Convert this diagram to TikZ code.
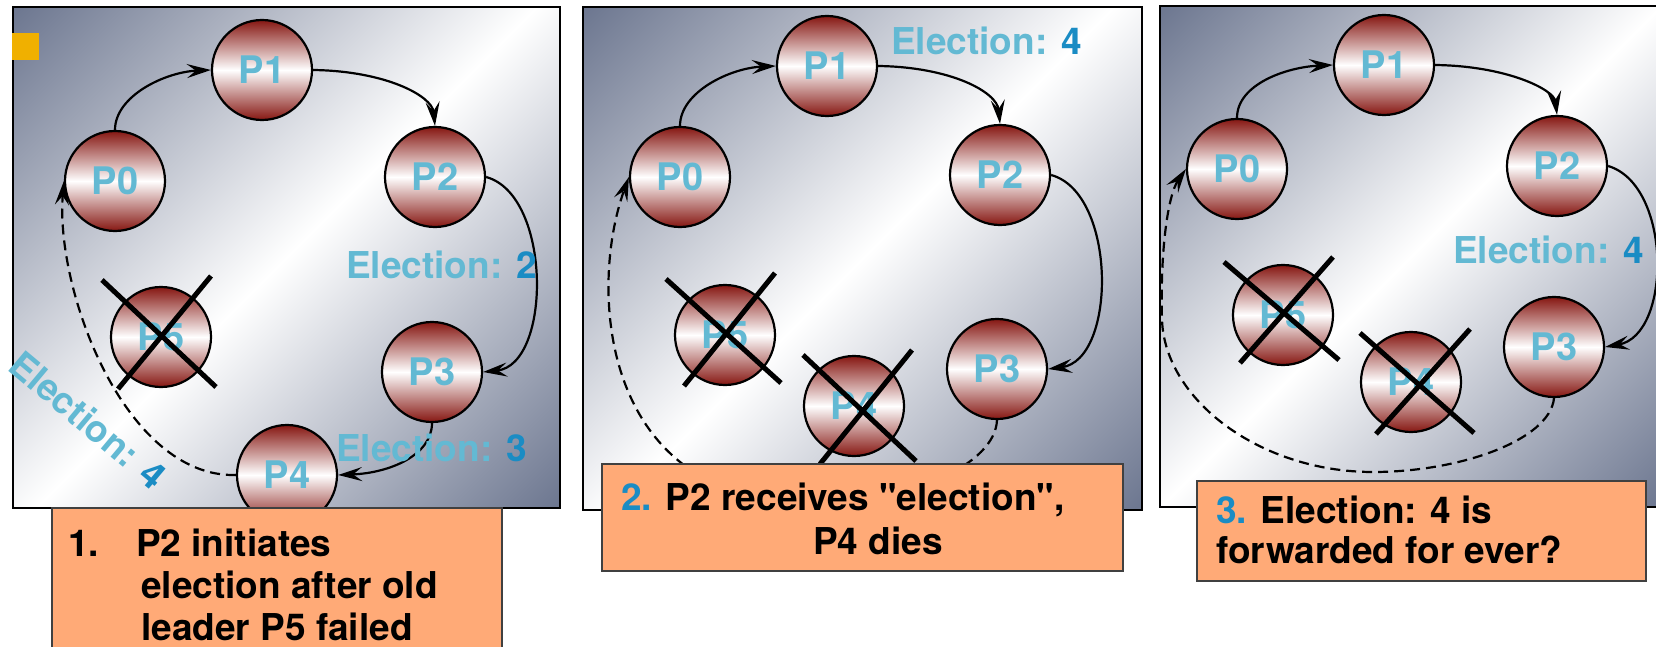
\documentclass[tikz,border=0pt]{standalone}
\usepackage{fontspec}
\setmainfont{TeX Gyre Heros}
% same face without the TeX quote mapping, for straight double quotes
\newfontfamily\plainheros{TeX Gyre Heros}
\usetikzlibrary{arrows.meta,calc}

\definecolor{pbg}{HTML}{6E7891}
\definecolor{pdark}{HTML}{861712}
\definecolor{plabel}{HTML}{63B9D3}
\definecolor{enum}{HTML}{1A8CC4}
\definecolor{capfill}{HTML}{FFAA77}
\definecolor{marker}{HTML}{F0B000}

% diagonal metallic backdrop: dark corners, white band across the middle
\pgfdeclareverticalshading{panelshade}{100bp}{color(0bp)=(pbg); color(15bp)=(pbg); color(50bp)=(white); color(85bp)=(pbg); color(100bp)=(pbg)}

\newcommand{\dq}{{\plainheros\bfseries\symbol{34}}}

\begin{document}
\begin{tikzpicture}[x=1pt,y=-1pt,
  panel/.style={draw=black,line width=2.5pt,shade,shading=panelshade,shading angle=45},
  proc/.style={circle,draw=black,line width=2.2pt,minimum size=100pt,inner sep=0pt,
    top color=pdark,bottom color=pdark,middle color=white,text=plabel,
    font=\bfseries\fontsize{38}{38}\selectfont},
  link/.style={line width=2.2pt,-{Stealth[length=24pt,width=14pt,inset=9pt]}},
  lostlink/.style={link,dash pattern=on 10pt off 6pt},
  xmark/.style={line width=5pt,draw=black},
  msg/.style={inner sep=0pt,text=plabel,font=\bfseries\fontsize{37}{37}\selectfont},
  caption/.style={draw=black!75,line width=1.2pt,fill=capfill},
  captext/.style={inner sep=0pt,anchor=north west,align=left,text=black}
]
\useasboundingbox (0,0) rectangle (1656,647);
\fill[white] (0,0) rectangle (1656,647);

% ---------- backdrops ----------
\path[panel] (13,7) rectangle (560,508);
\path[panel] (583,7) rectangle (1142,510);
\path[panel] (1160,6) rectangle (1662,507);
\fill[marker] (12,33) rectangle (39,60);

% ---------- step 1 ----------
\node[proc] (a0) at (115,181) {P0};
\node[proc] (a1) at (262,70)  {P1};
\node[proc] (a2) at (435,177) {P2};
\node[proc] (a3) at (432,372) {P3};
\node[proc] (a4) at (287,475) {P4};
\node[proc] (a5) at (161,337) {P5};
\draw[xmark] ($(a5)+(-59,-57)$) -- ($(a5)+(55,50)$)
             ($(a5)+(-43,52)$) -- ($(a5)+(50,-61)$);

\draw[link] (a0.north) .. controls (115,96) and (165,72) .. (a1.west);
\draw[link] (a1.east) .. controls (386,71) and (432,96) .. (a2.north);
\draw[link] (a2.east) .. controls (552,195) and (552,365) .. (a3.east);
\draw[link] (a3.south) .. controls (432,455) and (390,473) .. (a4.east);
\draw[lostlink] (a4.west) .. controls (125,478) and (55,290) .. (a0.west);

\node[msg,anchor=base west] (la2) at (346,278) {Election: \textcolor{enum}{2}};
\node[msg,anchor=base west] (la3) at (336,461) {Election: \textcolor{enum}{3}};
\node[msg,rotate=-40] (la4) at (88,420) {Election: \textcolor{enum}{4}};

% ---------- step 2 ----------
\node[proc] (b0) at (680,177)  {P0};
\node[proc] (b1) at (827,66)   {P1};
\node[proc] (b2) at (1000,175) {P2};
\node[proc] (b3) at (997,369)  {P3};
\node[proc] (b4) at (854,406)  {P4};
\node[proc] (b5) at (725,335)  {P5};
\draw[xmark] ($(b5)+(-59,-56)$) -- ($(b5)+(56,48)$)
             ($(b5)+(-41,51)$) -- ($(b5)+(50,-62)$);
\draw[xmark] ($(b4)+(-51,-51)$) -- ($(b4)+(62,55)$)
             ($(b4)+(-34,58)$) -- ($(b4)+(58,-56)$);

\draw[link] (b0.north) .. controls (680,92) and (730,68) .. (b1.west);
\draw[link] (b1.east) .. controls (951,67) and (997,92) .. (b2.north);
\draw[link] (b2.east) .. controls (1117,193) and (1117,360) .. (b3.east);
\coordinate (bbot) at (815,503);
\draw[lostlink] (b3.south) .. controls (995,465) and (910,502) .. (bbot)
                .. controls (600,505) and (588,290) .. (b0.west);

\node[msg,anchor=base west] (lb4) at (891,55) {Election: \textcolor{enum}{4}};

% ---------- step 3 ----------
\node[proc] (c0) at (1237,169) {P0};
\node[proc] (c1) at (1384,65)  {P1};
\node[proc] (c2) at (1557,166) {P2};
\node[proc] (c3) at (1554,347) {P3};
\node[proc] (c4) at (1411,382) {P4};
\node[proc] (c5) at (1283,315) {P5};
\draw[xmark] ($(c5)+(-59,-53)$) -- ($(c5)+(56,45)$)
             ($(c5)+(-43,48)$) -- ($(c5)+(50,-58)$);
\draw[xmark] ($(c4)+(-51,-49)$) -- ($(c4)+(63,51)$)
             ($(c4)+(-35,52)$) -- ($(c4)+(59,-53)$);

\draw[link] (c0.north) .. controls (1237,84) and (1287,67) .. (c1.west);
\draw[link] (c1.east) .. controls (1508,66) and (1554,90) .. (c2.north);
\draw[link] (c2.east) .. controls (1672,185) and (1672,335) .. (c3.east);
\coordinate (cbot) at (1373,472);
\coordinate (cside) at (1162,320);
\draw[lostlink] (c3.south) .. controls (1550,440) and (1460,472) .. (cbot)
                .. controls (1260,472) and (1165,400) .. (cside)
                .. controls (1160,250) and (1168,195) .. (c0.west);

\node[msg,anchor=base west] (lc4) at (1453,263) {Election: \textcolor{enum}{4}};

% ---------- captions ----------
\draw[caption] (52,508) rectangle (502,664);
\node[captext,font=\bfseries\fontsize{37}{42}\selectfont] (t1) at (68,529)
  {\makebox[68pt][l]{1.}P2 initiates\\\hspace*{73pt}election after old\\\hspace*{73pt}leader P5 failed};

\draw[caption] (602,464) rectangle (1123,571);
\node[captext,font=\bfseries\fontsize{37}{44}\selectfont] (t2) at (621,483)
  {\textcolor{enum}{2.} P2 receives \dq election\dq ,\\\hspace*{192pt}P4 dies};

\draw[caption] (1197,481) rectangle (1646,581);
\node[captext,font=\bfseries\fontsize{37}{40}\selectfont] (t3) at (1216,496)
  {\textcolor{enum}{3.} Election: 4 is\\forwarded for ever?};
\end{tikzpicture}
\end{document}
